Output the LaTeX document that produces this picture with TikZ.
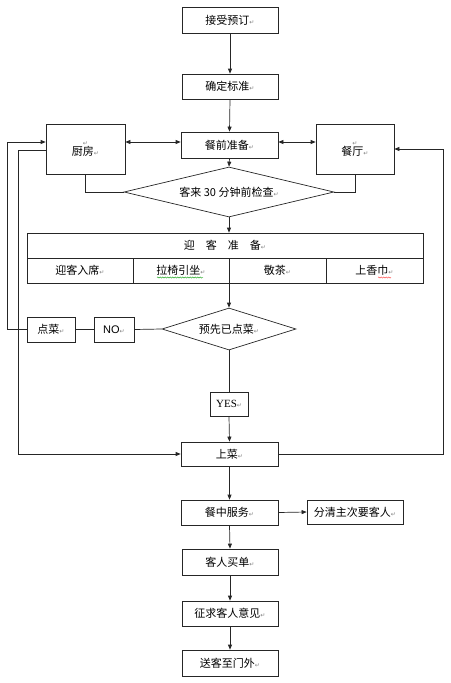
\documentclass[tikz,border=0pt]{standalone}
\usepackage{fontspec}
\setmainfont{Noto Sans CJK SC}
\newfontfamily\djv{DejaVu Sans}
\newfontfamily\lserif{Liberation Serif}
\newfontfamily\lsans{Liberation Sans}
\usetikzlibrary{arrows.meta,shapes.geometric,decorations.pathmorphing}
\newcommand{\pmk}{{\color{black!50}\fontsize{6}{6}\selectfont\djv ↵}}
\begin{document}
\begin{tikzpicture}[x=1pt,y=-1pt,
  every node/.style={font=\fontsize{11}{12}\selectfont},
  box/.style={draw=black!85,line width=0.7pt,rectangle,inner sep=0pt,minimum width=#1},
  box/.default=96pt,
  dia/.style={draw=black!85,line width=0.7pt,diamond,inner sep=0pt},
  ln/.style={draw=black!85,line width=0.7pt},
  arr/.style={ln,-{Triangle[length=5pt,width=4pt]}},
  darr/.style={ln,{Triangle[length=5pt,width=4pt]}-{Triangle[length=5pt,width=4pt]}}
]
\useasboundingbox (0,0) rectangle (450,683);
% main column
\node[box,minimum height=26pt] (n1) at (230,20) {接受预订\pmk};
\node[box,minimum height=25pt] (n2) at (230,86.5) {确定标准\pmk};
\node[box=97pt,minimum height=26pt] (n3) at (229.5,145) {餐前准备\pmk};
\node[box=79pt,minimum height=50pt,align=center] (kit) at (85.5,149) {\pmk\\[-2pt]厨房\pmk};
\node[box=78pt,minimum height=50pt,align=center] (din) at (355,149) {\pmk\\[-2pt]餐厅\pmk};
\node[dia,minimum width=210pt,minimum height=50pt,aspect=4.2] (d1) at (229,192) {客来 30 分钟前检查\pmk};
% table
\node[box=396pt,minimum height=25pt] (tabh) at (225,245.5) {迎\quad 客\quad 准\quad 备\pmk};
\node[box=106pt,minimum height=25pt] (c1) at (80,270.5) {迎客入席\pmk};
\node[box=96pt,minimum height=25pt] (c2) at (181,270.5) {拉椅引坐\pmk};
\node[box=97pt,minimum height=25pt] (c3) at (277.5,270.5) {敬茶\pmk};
\node[box=97pt,minimum height=25pt] (c4) at (374.5,270.5) {上香巾\pmk};
\draw[green!60!black,line width=0.4pt,decorate,decoration={snake,amplitude=0.6pt,segment length=2.5pt}] (157,277.5) -- (203,277.5);
\draw[red!80,line width=0.4pt,decorate,decoration={snake,amplitude=0.6pt,segment length=2.5pt}] (378,277.5) -- (391,277.5);
% decision 2
\node[dia,minimum width=134pt,minimum height=42pt,aspect=3.2] (d2) at (229,329) {预先已点菜\pmk};
\node[box=48pt,minimum height=25pt] (dc) at (51,329.5) {点菜\pmk};
\node[box=40pt,minimum height=25pt] (no) at (114,329.5) {{\lsans NO}\pmk};
\node[box=38pt,minimum height=24pt] (yes) at (229,404) {{\lserif YES}\pmk};
\node[box=97pt,minimum height=24pt] (sc) at (229.5,454) {上菜\pmk};
\node[box=97pt,minimum height=25pt] (cz) at (229.5,512.5) {餐中服务\pmk};
\node[box,minimum height=24pt] (fq) at (355,512) {分清主次要客人\pmk};
\node[box,minimum height=26pt] (md) at (230,562) {客人买单\pmk};
\node[box,minimum height=25pt] (zq) at (230,613.5) {征求客人意见\pmk};
\node[box,minimum height=26pt] (sk) at (230,663) {送客至门外\pmk};
% helper coordinates
\coordinate (y142) at (0,142);
\coordinate (y150) at (0,150);
\coordinate (L1) at (7,329.5);
\coordinate (L2) at (18,454);
\coordinate (R2) at (443,149);
% connectors
\draw[arr] (n1.south) -- (n2.north);
\draw[arr] (n2.south) -- (n3.north);
\draw[darr] (kit.east |- y142) -- (n3.west |- y142);
\draw[darr] (n3.east |- y142) -- (din.west |- y142);
\draw[arr] (n3.south) -- (d1.north);
\draw[ln] (kit.south) |- (d1.west);
\draw[ln] (din.south) |- (d1.east);
\draw[arr] (d1.south) -- (d1.south |- tabh.north);
\draw[arr] (d2.north |- c3.south) -- (d2.north);
\draw[ln] (d2.west) -- (no.east);
\draw[ln] (no.west) -- (dc.east);
\draw[arr] (dc.west) -- (L1) |- (kit.west |- y142);
\draw[arr] (kit.west |- y150) -| (L2) -- (sc.west);
\draw[arr] (sc.east) -| (R2) -- (din.east);
\draw[ln] (d2.south) -- (yes.north);
\draw[arr] (yes.south) -- (sc.north);
\draw[arr] (sc.south) -- (cz.north);
\draw[arr] (cz.east) -- (fq.west);
\draw[arr] (cz.south) -- (md.north);
\draw[arr] (md.south) -- (zq.north);
\draw[arr] (zq.south) -- (sk.north);
\end{tikzpicture}
\end{document}
